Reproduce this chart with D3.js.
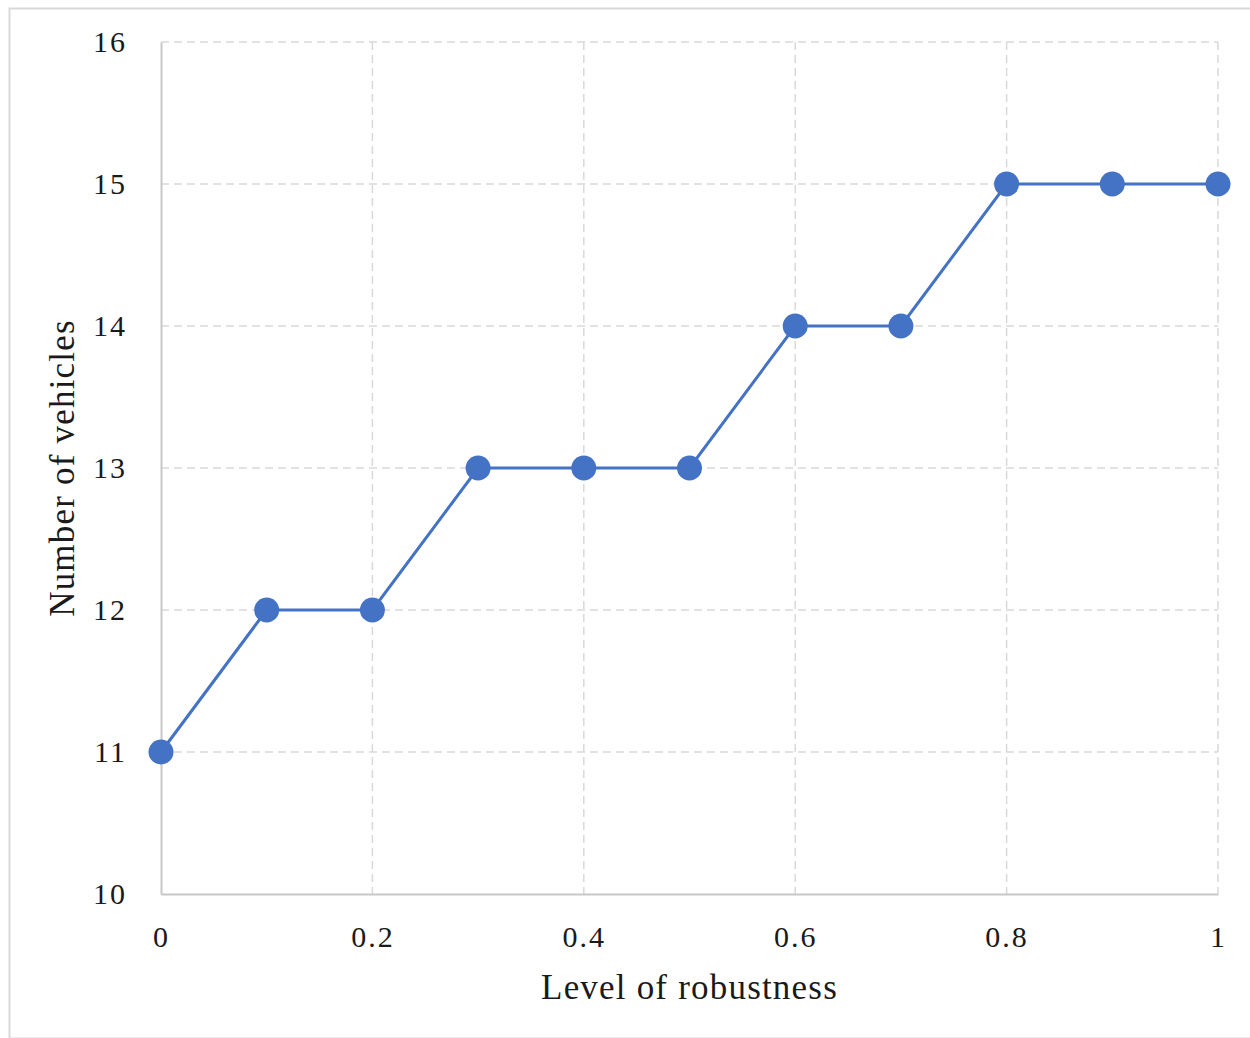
<!DOCTYPE html>
<html><head><meta charset="utf-8">
<script src="https://cdn.jsdelivr.net/npm/d3@7"></script>
<style>body{margin:0;background:#fff;}svg{display:block;}</style>
</head><body>
<svg id="c" width="1250" height="1038"></svg>
<script>
const xValues = [0, 0.1, 0.2, 0.3, 0.4, 0.5, 0.6, 0.7, 0.8, 0.9, 1];
const vehicles = [11, 12, 12, 13, 13, 13, 14, 14, 15, 15, 15];
const xTicks = [0, 0.2, 0.4, 0.6, 0.8, 1];
const yTicks = [10, 11, 12, 13, 14, 15, 16];
const xTitle = "Level of robustness";
const yTitle = "Number of vehicles";

const svg = d3.select("#c");
const font = "'Liberation Serif', 'DejaVu Serif', serif";
const L = 161, R = 1218, T = 42, B = 894;
const x = d3.scaleLinear().domain([0, 1]).range([L, R]);
const y = d3.scaleLinear().domain([10, 16]).range([B, T]);

svg.append("rect").attr("x", 9.5).attr("y", 8.5).attr("width", 1260).attr("height", 1030)
  .attr("fill", "#fff").attr("stroke", "#d9d9d9").attr("stroke-width", 2);

// gridlines
svg.append("g").selectAll("line").data(yTicks.filter(d => d !== 10)).join("line")
  .attr("x1", L).attr("x2", R).attr("y1", d => y(d)).attr("y2", d => y(d))
  .attr("stroke", "#d9d9d9").attr("stroke-width", 1.5).attr("stroke-dasharray", "8,5");
svg.append("g").selectAll("line").data(xTicks.filter(d => d !== 0)).join("line")
  .attr("y1", T).attr("y2", B).attr("x1", d => x(d)).attr("x2", d => x(d))
  .attr("stroke", "#d9d9d9").attr("stroke-width", 1.5).attr("stroke-dasharray", "8,5");

// axes
const xAxis = svg.append("g").attr("transform", `translate(0,${B})`)
  .call(d3.axisBottom(x).tickValues(xTicks).tickSize(0).tickPadding(32).tickFormat(d => String(d)));
const yAxis = svg.append("g").attr("transform", `translate(${L},0)`)
  .call(d3.axisLeft(y).tickValues(yTicks).tickSize(0).tickPadding(34).tickFormat(d => String(d)));
[xAxis, yAxis].forEach(a => {
  a.select(".domain").attr("stroke", "#c8c8c8").attr("stroke-width", 2);
  a.selectAll("text").attr("font-family", font).attr("font-size", 30)
    .attr("letter-spacing", 2).attr("fill", "#1a1a1a");
});

// line
svg.append("path").datum(xValues.map((v, i) => [v, vehicles[i]]))
  .attr("d", d3.line().x(d => x(d[0])).y(d => y(d[1])))
  .attr("fill", "none").attr("stroke", "#4472c4").attr("stroke-width", 3);
svg.append("g").selectAll("circle").data(xValues.map((v, i) => [v, vehicles[i]])).join("circle")
  .attr("cx", d => x(d[0])).attr("cy", d => y(d[1])).attr("r", 12.5).attr("fill", "#4472c4");

// titles
svg.append("text").attr("x", (L + R) / 2).attr("y", 999).attr("text-anchor", "middle")
  .attr("font-family", font).attr("font-size", 35).attr("letter-spacing", 1.2).attr("fill", "#1a1a1a").text(xTitle);
svg.append("text").attr("transform", `translate(74,${(T + B) / 2}) rotate(-90)`).attr("text-anchor", "middle")
  .attr("font-family", font).attr("font-size", 35).attr("letter-spacing", 1.2).attr("fill", "#1a1a1a").text(yTitle);
</script>
</body></html>
